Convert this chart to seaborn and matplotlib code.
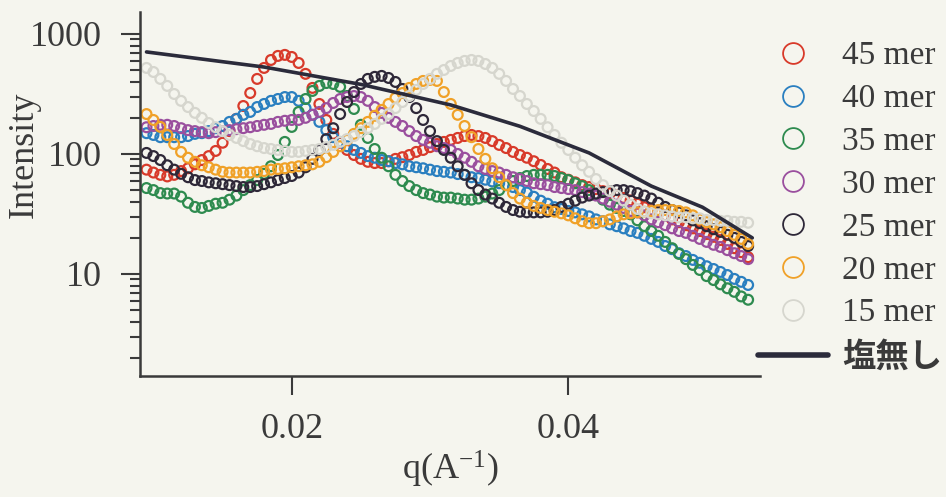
import numpy as np
import pandas as pd
import matplotlib.pyplot as plt
import seaborn as sns
from matplotlib.lines import Line2D
from matplotlib.ticker import LogLocator, FixedLocator, FuncFormatter, NullLocator

# ------------------------------
# data
# ------------------------------
q = np.round(np.arange(0.0095, 0.05301, 0.0005), 4)  # measurement grid, 88 points

labels = ["45 mer", "40 mer", "35 mer", "30 mer", "25 mer", "20 mer", "15 mer"]
colors = ["#d83a2a", "#2a7fc0", "#2e8b4f", "#9a4f9e", "#2e2838", "#f0a128", "#d6d6ce"]

mer45 = [74, 70, 67, 65, 67, 72, 76, 82, 89, 96,
         106, 124, 155, 196, 251, 322, 422, 521, 607, 656,
         669, 643, 573, 465, 355, 261, 192, 147, 124, 108,
         98, 91, 86, 84, 84, 87, 91, 94, 98, 104,
         108, 114, 121, 126, 131, 136, 141, 144, 141, 136,
         128, 119, 112, 104, 98, 93, 87, 81, 75, 70,
         64, 61, 58, 55, 53, 51, 49, 47, 45, 43,
         41, 38.5, 36, 34, 32.6, 30.8, 28.5, 27, 25.5, 24,
         22.8, 21.5, 20.4, 19.2, 17.8, 16.4, 15.2, 13.8]
mer40 = [149, 144, 138, 138, 138, 138, 141, 147, 149, 155,
         164, 171, 185, 196, 212, 224, 246, 261, 277, 287,
         298, 298, 277, 241, 212, 185, 158, 138, 126, 116,
         108, 102, 96, 93, 89, 87, 84, 82, 79, 77.5,
         76, 74, 72, 71, 70, 68, 67, 64, 63, 61,
         59, 57, 55, 53, 50, 47.7, 44, 40.8, 38.5, 36,
         34.8, 33.5, 32.6, 31.4, 30.2, 28.5, 27.5, 25.9, 25, 24,
         22.8, 22, 20.8, 19.6, 18.5, 17.1, 16.1, 14.9, 14.1, 13.1,
         12.4, 11.6, 11, 10.4, 9.8, 9.1, 8.6, 8.1]
mer35 = [52, 50, 47.2, 46.8, 46.8, 44.1, 39.2, 36.2, 35.5, 36.9,
         38.5, 39.2, 41.6, 45, 50, 55, 60.6, 68.3, 79, 98,
         126, 168, 224, 287, 335, 369, 390, 383, 362, 304,
         237, 175, 136, 110, 93, 79, 67, 59.5, 54, 50,
         47.2, 45.9, 44.1, 43.3, 43.3, 42.5, 41.6, 41.6, 42.5, 44.1,
         46.8, 50, 55, 59.5, 63, 65.5, 67, 67, 67, 65.5,
         63, 60.6, 57, 54, 50, 45.9, 41.6, 37.8, 35.5, 33.5,
         31.4, 28, 25, 22.8, 20.8, 18.5, 16.4, 14.7, 13.3, 11.9,
         10.8, 9.6, 8.9, 8.2, 7.6, 7.1, 6.5, 6.1]
mer30 = [167, 171, 175, 175, 171, 164, 158, 155, 152, 149,
         152, 155, 158, 161, 164, 167, 171, 175, 178, 185,
         189, 192, 192, 200, 212, 224, 241, 266, 287, 298,
         304, 298, 277, 246, 220, 200, 185, 171, 155, 141,
         131, 124, 116, 112, 108, 100, 93, 86, 79, 75,
         72, 70, 67, 64, 61.8, 59.5, 57, 56, 55, 53,
         52, 51, 50, 48.1, 46.8, 45, 42.5, 40, 37.8, 35.5,
         33.5, 32.6, 30.8, 28.5, 27, 25.5, 24, 22.8, 22, 20.8,
         19.6, 18.5, 17.5, 16.8, 15.8, 14.9, 14.1, 13.3]
mer25 = [102, 96, 89, 80.5, 74, 68.3, 64, 60.6, 59.5, 58,
         57, 56, 55, 54, 53, 53, 54, 56, 58, 60.6,
         63, 65.5, 70, 77.5, 91, 108, 133, 164, 215, 271,
         328, 383, 422, 439, 447, 430, 398, 348, 298, 241,
         192, 155, 128, 108, 93, 79, 67, 57, 50, 45.9,
         42.5, 39.2, 36.2, 34.1, 33, 32.6, 32.6, 32.6, 33, 34.1,
         36.2, 38.5, 40.8, 43.3, 45, 46.8, 48.1, 49, 50, 50,
         49, 47.2, 45, 42.5, 39.2, 36.2, 34.1, 32.6, 30.8, 28,
         26.5, 25, 23.6, 22.4, 21.2, 20, 18.5, 17.1]
mer20 = [215, 192, 168, 144, 121, 104, 93, 86, 80.5, 77.5,
         74, 71, 70, 70, 70, 70, 71, 72, 74, 75,
         76, 77.5, 79, 80.5, 82, 86, 94, 104, 116, 131,
         147, 164, 185, 208, 233, 261, 293, 322, 355, 383,
         406, 414, 406, 328, 261, 212, 171, 138, 110, 91,
         76, 64, 55, 47.2, 42.5, 39.2, 36.9, 35.5, 34.1, 33,
         32, 30.8, 29.1, 27.5, 26.5, 26.5, 27.5, 28.5, 30.2, 31.4,
         32, 32.6, 33, 33.5, 34.1, 34.1, 34.1, 33.5, 32.6, 30.8,
         28.5, 27, 25.9, 24.5, 22.8, 21.2, 19.6, 17.8]
mer15 = [521, 482, 422, 369, 316, 277, 246, 220, 200, 181,
         167, 155, 144, 136, 128, 121, 116, 112, 110, 108,
         106, 104, 104, 106, 108, 110, 114, 119, 126, 133,
         141, 152, 164, 178, 196, 215, 241, 271, 304, 342,
         383, 422, 465, 501, 541, 573, 596, 607, 596, 562,
         521, 465, 406, 348, 304, 261, 228, 196, 167, 144,
         124, 108, 93, 80.5, 71, 61.8, 55, 49, 45, 40.8,
         37.8, 34.8, 33, 32, 31.4, 30.8, 30.2, 29.6, 29.6, 29.1,
         29.1, 28.2, 28.2, 27.7, 27.7, 27.2, 27.2, 26.7]

# salt-free reference curve (solid line)
q_line = [0.0095, 0.018, 0.025, 0.0315, 0.0365, 0.0415, 0.046, 0.0497, 0.0533]
I_line = [708, 530, 380, 256, 170, 102, 54, 36, 20]
line_label = "塩無し"
line_color = "#2b2b3b"

series = [mer45, mer40, mer35, mer30, mer25, mer20, mer15]

# long-form table for seaborn
df = pd.concat(
    [pd.DataFrame({"q": q, "I": vals, "sample": lab}) for lab, vals in zip(labels, series)],
    ignore_index=True,
)

# ------------------------------
# style
# ------------------------------
bg = "#f5f5ee"
ink = "#3a3a3a"
sns.set_style("ticks")
plt.rcParams["font.family"] = ["Liberation Serif", "Noto Sans CJK JP"]
plt.rcParams["mathtext.fontset"] = "custom"
plt.rcParams["mathtext.rm"] = "Liberation Serif"
plt.rcParams["mathtext.it"] = "Liberation Serif:italic"

fig = plt.figure(figsize=(9.46, 4.97), dpi=100, facecolor=bg)
ax = fig.add_axes([0.148, 0.2435, 0.6554, 0.7324])
ax.set_facecolor(bg)

sns.scatterplot(data=df, x="q", y="I", hue="sample", hue_order=labels,
                palette=colors, s=50, linewidth=1.6, legend=False, ax=ax)
# open circles: move fill colour to the edge
pts = ax.collections[0]
fc = pts.get_facecolors()
pts.set_edgecolors(fc)
pts.set_facecolors("none")

sns.lineplot(x=q_line, y=I_line, color=line_color, linewidth=2.6, ax=ax, zorder=5)

ax.set_yscale("log")
ax.set_xlim(0.00903, 0.05386)
ax.set_ylim(1.413, 1524)

ax.xaxis.set_major_locator(FixedLocator([0.02, 0.04]))
ax.xaxis.set_minor_locator(NullLocator())
ax.yaxis.set_major_locator(FixedLocator([10, 100, 1000]))
ax.yaxis.set_minor_locator(LogLocator(base=10, subs=np.arange(2, 10)))
ax.yaxis.set_major_formatter(FuncFormatter(lambda v, _: f"{v:g}"))
ax.yaxis.set_minor_formatter(FuncFormatter(lambda v, _: ""))

sns.despine(ax=ax)
for s in ["left", "bottom"]:
    ax.spines[s].set_linewidth(1.8)
    ax.spines[s].set_color(ink)

ax.tick_params(axis="both", which="major", length=13.5, width=1.5, color=ink,
               labelsize=26, labelcolor=ink)
ax.tick_params(axis="y", which="major", pad=14)
ax.tick_params(axis="x", which="major", pad=13)
ax.tick_params(axis="y", which="minor", length=7, width=1.5, color=ink)

ax.set_xlabel("q(A$^{-1}$)", fontsize=26, color=ink)
ax.set_ylabel("Intensity", fontsize=26, color=ink)
ax.xaxis.set_label_coords(0.5, -0.2)
ax.yaxis.set_label_coords(-0.16, 0.607)

# legend
handles = [Line2D([], [], marker="o", ls="", mfc="none", mec=c, ms=15, mew=1.3)
           for c in colors]
handles.append(Line2D([], [], color=line_color, lw=4))
leg = fig.legend(handles, labels + [line_label], loc="upper left",
                 bbox_to_anchor=(758 / 946, 1 - 41 / 497), frameon=False,
                 fontsize=24, handlelength=2.1, handletextpad=0.42,
                 labelspacing=0.37, borderpad=0, borderaxespad=0)
for t in leg.get_texts():
    t.set_color(ink)
jt = leg.get_texts()[-1]
jt.set_fontfamily(["Noto Sans CJK JP"])
jt.set_fontweight("bold")

fig.savefig("out.png", dpi=100, facecolor=bg)
